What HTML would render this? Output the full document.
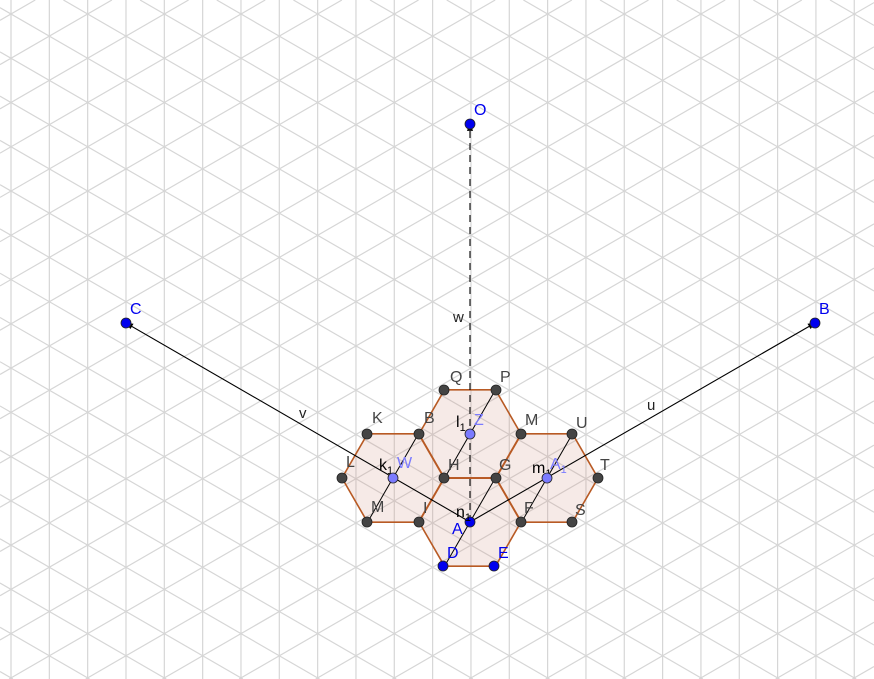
<!DOCTYPE html>
<html><head><meta charset="utf-8"><style>
html,body{margin:0;padding:0;background:#fff;width:874px;height:679px;overflow:hidden;}
svg{display:block;font-family:"Liberation Sans",sans-serif;overflow:hidden;}
</style></head><body>
<svg id="s" width="874" height="679" viewBox="0 0 874 679">
<defs><marker id="ar" viewBox="0 0 10 10" refX="9" refY="5" markerWidth="7" markerHeight="7" orient="auto"><path d="M0,1 L10,5 L0,9 z" fill="#000"/></marker></defs>
<g id="grid"></g>
<g id="hexes"></g>
<g id="vecs"></g>
<g id="pts"></g>
</svg>
<script>
const NS="http://www.w3.org/2000/svg";
const centers=[["A",470,522],["Z",470,434],["W",393,478],["A1",547,478]];
const hexR=51, hexH=44.2;
const vecEnds=[["O",470,124,"w",453,322],["C",126,323,"v",299,418],["B",815,323,"u",647,410]];
const grayPts=[["Q",444,390,450,382],["P",496,390,500,382],["M",521,434,525,425],["U",572,434,576,428],["T",598,478,600,470],["S",572,522,575,515],["F",521,522,524,513],["I",419,522,423,513],["M",367,522,371,512],["L",342,478,346,467],["K",367,434,372,423],["B",419,434,424,423],["H",444,478,448,470],["G",496,478,499,470]];
const bluePts=[["D",443,566,447,558],["E",494,566,498,558]];
const subs=[["k",1,379,470],["l",1,456,427],["n",1,456,517],["m",1,532,473]];
function el(t,a,p){const e=document.createElementNS(NS,t);for(const k in a)e.setAttribute(k,a[k]);p.appendChild(e);return e;}
const g=document.getElementById('grid');
const dx=38.33, dy=44.26, t=Math.tan(Math.PI/6), W=874, H=679;
for(let x=11;x<W;x+=dx){const l=el('line',{x1:x,y1:0,x2:x,y2:H,stroke:'#d6d6d6','stroke-width':1.2},g);}
function diag(y0,s){ // y = y0 + s*t*(x-11)
 let pts=[];
 const yAt=x=>y0+s*t*(x-11), xAt=y=>11+(y-y0)/(s*t);
 [[0,yAt(0)],[W,yAt(W)],[xAt(0),0],[xAt(H),H]].forEach(p=>{if(p[0]>=-0.01&&p[0]<=W+0.01&&p[1]>=-0.01&&p[1]<=H+0.01)pts.push(p);});
 if(pts.length<2)return;
 pts.sort((a,b)=>a[0]-b[0]);const a=pts[0],b=pts[pts.length-1];
 if(Math.hypot(a[0]-b[0],a[1]-b[1])<1)return;
 const l=el('line',{x1:a[0],y1:a[1],x2:b[0],y2:b[1],stroke:'#d6d6d6','stroke-width':1.2},g);
 }
for(let k=-40;k<40;k++){const y0=14+k*dy;diag(y0,1);diag(y0,-1);}
const hx=document.getElementById('hexes');
centers.forEach(c=>{const [n,x,y]=c;
 const pts=[[x-hexR,y],[x-hexR/2,y-hexH],[x+hexR/2,y-hexH],[x+hexR,y],[x+hexR/2,y+hexH],[x-hexR/2,y+hexH]];
 const p=el('polygon',{points:pts.map(q=>q.join(',')).join(' '),fill:'rgba(205,140,120,0.18)',stroke:'#b85a24','stroke-width':1.6},hx);
 
 const d=el('line',{x1:x+hexR/2,y1:y-hexH,x2:x-hexR/2,y2:y+hexH,stroke:'#000','stroke-width':1},hx);
 });
const vg=document.getElementById('vecs');const A=centers[0];
vecEnds.forEach((v,i)=>{const l=el('line',{x1:A[1],y1:A[2],x2:v[1],y2:v[2],stroke:'#000','stroke-width':1.1,'marker-end':'url(#ar)'},vg);
 if(i===0)l.setAttribute('stroke-dasharray','7,5');
 
 const tx=el('text',{x:v[4],y:v[5],'font-size':15,fill:'#222'},vg);tx.textContent=v[3];
 });
const pg=document.getElementById('pts');
function pt(x,y,fill,name){const c=el('circle',{cx:x,cy:y,r:5,fill:fill,stroke:'#222','stroke-width':0.8},pg);}
function lab(x,y,s,fill,name,sub){const tx=el('text',{x:x,y:y,'font-size':16,fill:fill},pg);tx.textContent=s;if(sub){const ts=el('tspan',{'font-size':11,dy:4},tx);ts.textContent=sub;}}
grayPts.forEach(p=>{pt(p[1],p[2],'#444','point-'+p[0]);lab(p[3],p[4],p[0],'#444','label-'+p[0]);});
bluePts.forEach(p=>{pt(p[1],p[2],'#0000ee','point-'+p[0]);lab(p[3],p[4],p[0],'#0000ee','label-'+p[0]);});
vecEnds.forEach(v=>{pt(v[1],v[2],'#0000ee','point-'+v[0]);lab(v[1]+4,v[2]-9,v[0],'#0000ee','label-'+v[0]);});
pt(A[1],A[2],'#0000ee','point-A');lab(452,534,'A','#0000ee','label-A');
subs.forEach(s=>lab(s[2],s[3],s[0],'#000','label-'+s[0]+s[1],String(s[1])));
[["Z",470,434,474,425],["W",393,478,397,468],["A1",547,478,550,469]].forEach(p=>{pt(p[1],p[2],'#7b7bff','point-'+p[0]);lab(p[3],p[4],p[0][0],'#7b7bff','label-'+p[0],p[0].slice(1));});
</script>
</body></html>
